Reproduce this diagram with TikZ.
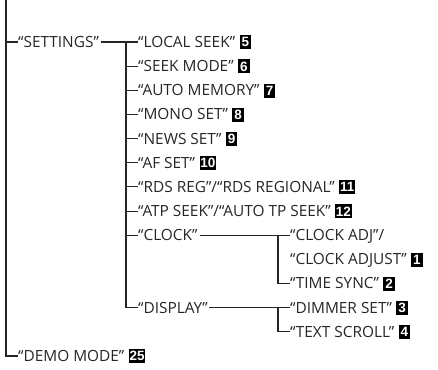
\documentclass[tikz,border=0pt]{standalone}
\usepackage{fontspec}
\setmainfont{Open Sans}
\newfontfamily\badgefont{Liberation Sans}
\begin{document}
\begin{tikzpicture}[x=1pt,y=-1pt,
  conn/.style={draw=black!85, line width=1.1pt},
  lbl/.style={anchor=west, inner sep=0pt, text height=10.8pt, text depth=0pt,
    font=\fontsize{15.4}{17}\selectfont, text=black!85},
  badge/.style={anchor=west, fill=black, text=white, inner sep=0.8pt,
    minimum height=14pt, minimum width=11.5pt, yshift=-0.3pt,
    font=\badgefont\bfseries\fontsize{13.5}{14}\selectfont}]
\useasboundingbox (0,0) rectangle (438,369);

% row positions
\def\ya{42}
\def\pitch{24.15}

% top level
\coordinate (top) at (6,0);
\node[lbl] (settings) at (18,\ya) {“SETTINGS”};
\node[lbl] (demo) at (18,\ya+13*\pitch) {“DEMO MODE”};
\node[badge] (b25) at ([xshift=4pt]demo.east) {25};

% settings sub-items
\node[lbl] (localseek) at (138,\ya) {“LOCAL SEEK”};
\node[lbl] (seekmode)  at (138,\ya+1*\pitch) {“SEEK MODE”};
\node[lbl] (automem)   at (138,\ya+2*\pitch) {“AUTO MEMORY”};
\node[lbl] (mono)      at (138,\ya+3*\pitch) {“MONO SET”};
\node[lbl] (news)      at (138,\ya+4*\pitch) {“NEWS SET”};
\node[lbl] (af)        at (138,\ya+5*\pitch) {“AF SET”};
\node[lbl] (rds)       at (138,\ya+6*\pitch) {“RDS REG”/“RDS REGIONAL”};
\node[lbl] (atp)       at (138,\ya+7*\pitch) {“ATP SEEK”/“AUTO TP SEEK”};
\node[lbl] (clock)     at (138,\ya+8*\pitch) {“CLOCK”};
\node[lbl] (display)   at (138,\ya+11*\pitch) {“DISPLAY”};

\node[badge] (b5)  at ([xshift=4pt]localseek.east) {5};
\node[badge] (b6)  at ([xshift=4pt]seekmode.east) {6};
\node[badge] (b7)  at ([xshift=4pt]automem.east) {7};
\node[badge] (b8)  at ([xshift=4pt]mono.east) {8};
\node[badge] (b9)  at ([xshift=4pt]news.east) {9};
\node[badge] (b10) at ([xshift=4pt]af.east) {10};
\node[badge] (b11) at ([xshift=4pt]rds.east) {11};
\node[badge] (b12) at ([xshift=4pt]atp.east) {12};

% clock and display sub-items
\node[lbl] (clockadj)    at (290,\ya+8*\pitch) {“CLOCK ADJ”/};
\node[lbl] (clockadjust) at (290,\ya+9*\pitch) {“CLOCK ADJUST”};
\node[lbl] (timesync)    at (290,\ya+10*\pitch) {“TIME SYNC”};
\node[lbl] (dimmer)      at (290,\ya+11*\pitch) {“DIMMER SET”};
\node[lbl] (textscroll)  at (290,\ya+12*\pitch) {“TEXT SCROLL”};

\node[badge] (b1) at ([xshift=4pt]clockadjust.east) {1};
\node[badge] (b2) at ([xshift=4pt]timesync.east) {2};
\node[badge] (b3) at ([xshift=4pt]dimmer.east) {3};
\node[badge] (b4) at ([xshift=4pt]textscroll.east) {4};

% connectors: top level
\draw[conn] (top) |- (demo.west);
\draw[conn] (settings.west -| top) -- (settings.west);

% connectors: settings branch
\coordinate (j1) at (126,\ya);
\draw[conn] (settings.east) ++(1.5,0) -- (localseek.west);
\draw[conn] (j1) |- (display.west);
\foreach \n in {seekmode,automem,mono,news,af,rds,atp,clock}
  \draw[conn] (\n.west -| j1) -- (\n.west);

% connectors: clock and display branches
\coordinate (j2) at (278,\ya+8*\pitch);
\draw[conn] (clock.east) ++(2,0) -- (clockadj.west);
\draw[conn] (j2) |- (timesync.west);
\draw[conn] (display.east) ++(1.5,0) -- (dimmer.west);
\draw[conn] (dimmer.west -| j2) |- (textscroll.west);
\end{tikzpicture}
\end{document}
